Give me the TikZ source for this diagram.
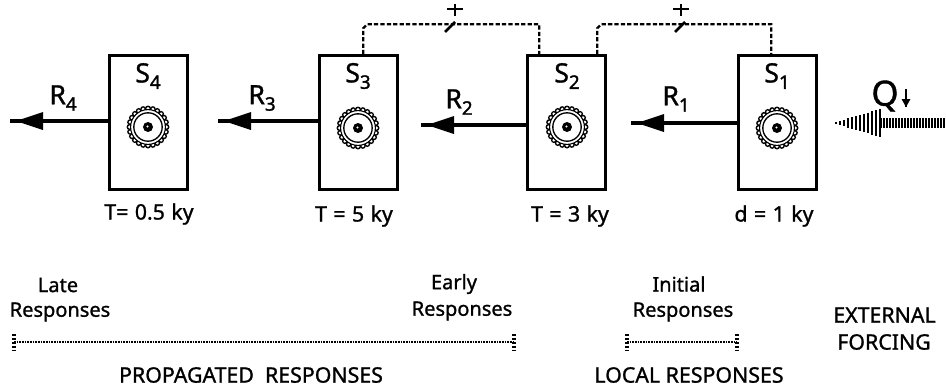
\documentclass[tikz,border=0pt]{standalone}
\usepackage{fontspec}
\setmainfont[FakeBold=1.1]{Noto Sans}
\newfontfamily\heavyfont[FakeBold=1.6]{Noto Sans}
\usetikzlibrary{calc}
\newcommand{\lowsub}[1]{\raisebox{-0.45ex}{\fontsize{14pt}{14pt}\heavyfont #1}}
\newcommand{\wgap}{\hspace{0.3em}}
\newcommand{\geardraw}[1]{%
  \foreach \a in {0,15,...,345} {\fill[black] ($(#1)+(\a:18.5)$) circle (3);}
  \foreach \a in {0,15,...,345} {\fill[white] ($(#1)+(\a:18.5)$) circle (1.6);}
  \fill[white] (#1) circle (17.2);
  \draw[line width=0.8pt] (#1) circle (17.4);
  \draw[line width=1pt] (#1) circle (14.2);
  \fill[black] (#1) circle (5);
  \fill[white] ($(#1)+(-0.5,-0.5)$) circle (1.1);
}
\newcommand{\headat}[1]{%
  \fill[black] ($(#1)+(6,0)$) -- ++(27,-9) -- ++(0,18) -- cycle;
}
\tikzset{
  x=0.75pt,y=-0.75pt,
  box/.style={draw,line width=2.4pt,minimum width=58pt,minimum height=100pt,inner sep=0pt},
  flow/.style={line width=2.5pt},
  link/.style={line width=1.7pt,dash pattern=on 3.2pt off 1.6pt},
  span/.style={line width=1.9pt,dash pattern=on 1.2pt off 0.8pt},
  lab/.style={font=\fontsize{15pt}{16pt}\selectfont,inner sep=0pt,align=center},
  caps/.style={font=\fontsize{16pt}{17pt}\selectfont,inner sep=0pt,align=center},
  tlab/.style={font=\fontsize{16pt}{17pt}\selectfont,inner sep=0pt},
  sym/.style={font=\fontsize{20pt}{21pt}\selectfont,inner sep=0pt},
  plus/.style={inner sep=0pt,line width=2pt},
}
\begin{document}
\begin{tikzpicture}
\useasboundingbox (0,0) rectangle (946,390);
\fill[white] (0,0) rectangle (946,390);
% boxes
\node[box] (s1) at (777.5,122.5) {};
\node[box] (s2) at (566.5,122.5) {};
\node[box] (s3) at (358.5,122.5) {};
\node[box] (s4) at (148.5,122.5) {};
\node[sym] (ls1) at (777,76) {S\lowsub{1}};
\node[sym] (ls2) at (567,76) {S\lowsub{2}};
\node[sym] (ls3) at (358,76) {S\lowsub{3}};
\node[sym] (ls4) at (148,76) {S\lowsub{4}};
% gears
\coordinate (g1) at (777,128);
\coordinate (g2) at (567,127);
\coordinate (g3) at (358,128);
\coordinate (g4) at (148,127);
\geardraw{g1}\geardraw{g2}\geardraw{g3}\geardraw{g4}
% response arrows
\coordinate (e1) at (631,123);
\coordinate (e2) at (421,125);
\coordinate (e3) at (218,121);
\coordinate (e4) at (10,121);
\draw[flow] (s1.west |- e1) -- (e1); \headat{e1}
\draw[flow] (s2.west |- e2) -- (e2); \headat{e2}
\draw[flow] (s3.west |- e3) -- (e3); \headat{e3}
\draw[flow] (s4.west |- e4) -- (e4); \headat{e4}
\node[sym] (r1) at (676,99) {R\lowsub{1}};
\node[sym] (r2) at (459,102) {R\lowsub{2}};
\node[sym] (r3) at (262,98) {R\lowsub{3}};
\node[sym] (r4) at (63,98) {R\lowsub{4}};
% feedback links
\coordinate (c1a) at ($(s3.north west)+(45,0)$);
\coordinate (c1b) at ($(s2.north west)+(13,0)$);
\coordinate (c2a) at ($(s2.north west)+(71,0)$);
\coordinate (c2b) at ($(s1.north west)+(34,0)$);
\draw[link] (c1a) -- ++(0,-26) -- ++(4,-4) -| (c1b);
\draw[link] (c2a) -- ++(0,-26) -- ++(4,-4) -| (c2b);
\coordinate (k1) at (450,27);
\coordinate (k2) at (680,27);
\draw[line width=2pt] ($(k1)+(-5,5)$) -- ($(k1)+(5,-5)$);
\draw[line width=2pt] ($(k2)+(-5,5)$) -- ($(k2)+(5,-5)$);
\coordinate (p1) at (455,9);
\coordinate (p2) at (681,9);
\foreach \p in {p1,p2} {
  \draw[plus] ($(\p)+(-8,0)$) -- ($(\p)+(8,0)$);
  \draw[plus] ($(\p)+(0,-5)$) -- ($(\p)+(0,7)$);
}
% forcing arrow
\foreach \x in {881,884,...,945} {\draw[line width=1.2pt] (\x,118) -- (\x,128);}
\foreach \x in {836,840,...,880} {
  \pgfmathsetmacro{\hh}{1+(\x-836)*13/44}
  \draw[line width=1.7pt] (\x,123-\hh) -- (\x,123+\hh);
}
\node[inner sep=0pt,font=\fontsize{26pt}{26pt}\selectfont] (q) at (885,96) {Q};
\coordinate (qa) at (906,89);
\coordinate (qb) at (906,107);
\draw[line width=1.5pt] (qa) -- (qb);
\fill[black] (qb) -- ++(-4.5,-8) -- ++(9,0) -- cycle;
% times
\node[tlab] (t4) at (149,214) {T=\wgap 0.5\wgap ky};
\node[tlab] (t3) at (354,216) {T\wgap =\wgap 5\wgap ky};
\node[tlab] (t2) at (570,216) {T\wgap =\wgap 3\wgap ky};
\node[tlab] (t1) at (774,216) {d\wgap =\wgap 1\wgap ky};
% lower labels
\node[lab] (late) at (58,285) {Late};
\node[lab] (lateb) at (60,312) {Responses};
\node[lab] (early) at (454,284) {Early};
\node[lab] (earlyb) at (462,311) {Responses};
\node[lab] (init) at (679,284) {Initial};
\node[lab] (initb) at (683,312) {Responses};
\node[caps] (ext) at (884.5,315) {EXTERNAL};
\node[caps] (forc) at (884,342) {FORCING};
\node[caps] (prop) at (251,375) {PROPAGATED~~RESPONSES};
\node[caps] (loc) at (689,375) {LOCAL RESPONSES};
% spans
\coordinate (a1) at (14,342); \coordinate (a2) at (514,342);
\coordinate (b1) at (627,342); \coordinate (b2) at (737,342);
\draw[span] (a1) -- (a2);
\draw[span] (b1) -- (b2);
\foreach \p in {a1,a2,b1,b2} {\draw[line width=2.4pt,dash pattern=on 1.8pt off 1.2pt] ($(\p)+(0,-8)$) -- ($(\p)+(0,9)$);}
\end{tikzpicture}
\end{document}
